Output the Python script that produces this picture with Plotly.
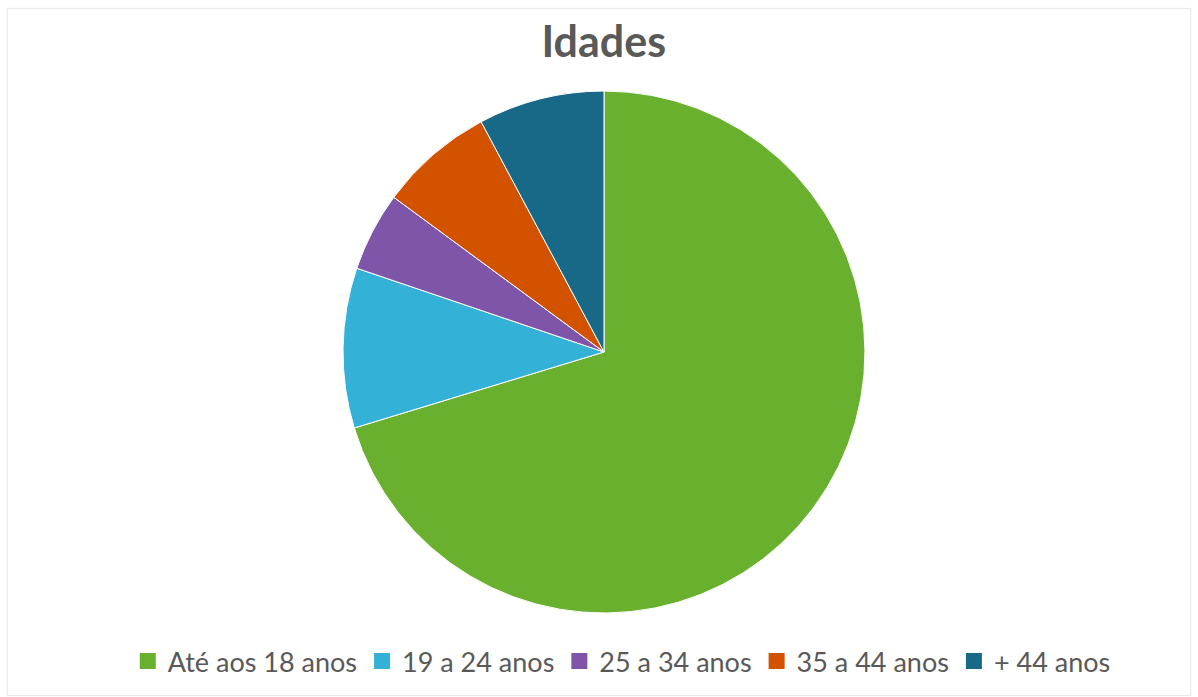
import plotly.graph_objects as go

# Age-group shares (%)
categories = ["Até aos 18 anos", "19 a 24 anos", "25 a 34 anos", "35 a 44 anos", "+ 44 anos"]
shares = [70.3, 9.9, 4.9, 7.1, 7.8]
colors = ["#6AB02F", "#33B1D6", "#7F55AA", "#D25200", "#186988"]

FONT = "Lato, Open Sans, sans-serif"
TEXT_GREY = "#595959"

fig = go.Figure()

fig.add_trace(
    go.Pie(
        labels=categories,
        values=shares,
        sort=False,
        direction="clockwise",
        rotation=0,
        textinfo="none",
        hoverinfo="label+percent",
        showlegend=False,
        marker=dict(colors=colors, line=dict(color="white", width=1)),
        domain=dict(x=[0.2863, 0.7220], y=[0.1205, 0.8694]),
    )
)

# Legend entries with larger square swatches
for name, col in zip(categories, colors):
    fig.add_trace(
        go.Scatter(
            x=[None],
            y=[None],
            mode="markers",
            name=name,
            marker=dict(symbol="square", size=16, color=col),
            hoverinfo="skip",
        )
    )

fig.update_layout(
    width=1198,
    height=697,
    margin=dict(l=0, r=0, t=0, b=0),
    paper_bgcolor="white",
    plot_bgcolor="white",
    xaxis=dict(visible=False),
    yaxis=dict(visible=False),
    title=dict(
        text="<b>Idades</b>",
        x=0.504,
        xanchor="center",
        y=0.94,
        yanchor="middle",
        font=dict(family=FONT, size=43, color=TEXT_GREY),
    ),
    legend=dict(
        orientation="h",
        x=0.519,
        xanchor="center",
        y=0.051,
        yanchor="middle",
        font=dict(family=FONT, size=27, color=TEXT_GREY),
        itemsizing="trace",
        itemwidth=30,
        traceorder="normal",
    ),
    shapes=[
        dict(
            type="rect",
            xref="paper",
            yref="paper",
            x0=0.006,
            x1=0.994,
            y0=0.002,
            y1=0.988,
            line=dict(color="#E6E6E6", width=1),
        )
    ],
)

fig.write_html("out.html")
